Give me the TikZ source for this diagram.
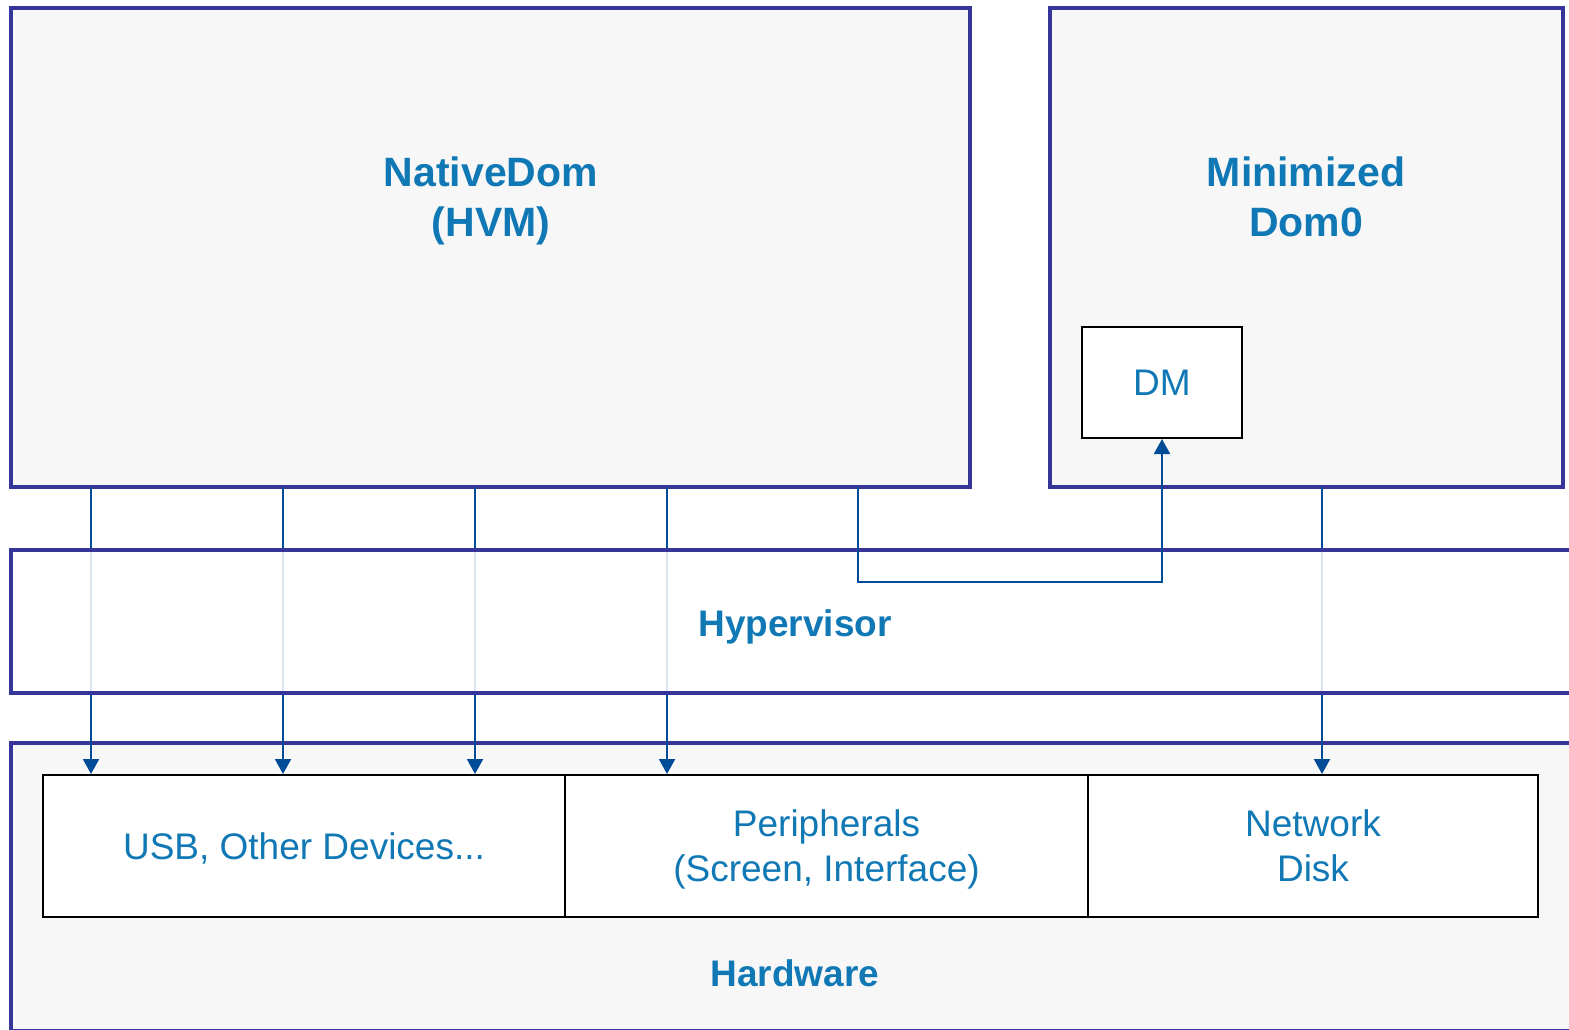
\documentclass[tikz,border=0pt]{standalone}
\usepackage{fontspec}
\setmainfont{Liberation Sans}
\usetikzlibrary{arrows.meta}

\tikzset{
  layer/.style={draw=layerline, line width=4pt, fill=layerfill, inner sep=0pt},
  unit/.style={draw=black, line width=2pt, fill=white, inner sep=0pt, text depth=0pt,
    text=labelblue, align=center, font=\fontsize{37}{45}\selectfont},
  title/.style={text=labelblue, align=center, font=\fontsize{41}{50}\selectfont\bfseries},
  link/.style={draw=linkblue, line width=2pt, -{Triangle[width=16pt,length=15pt]}}
}

\begin{document}
\begin{tikzpicture}[x=1pt, y=-1pt]
  % Define colors
  \definecolor{layerline}{RGB}{54,54,154}
  \definecolor{layerfill}{RGB}{247,247,247}
  \definecolor{labelblue}{RGB}{16,120,180}
  \definecolor{linkblue}{RGB}{0,76,150}

  \clip (0,0) rectangle (1569,1029);
  \useasboundingbox (0,0) rectangle (1569,1029);

  % Draw the domains
  \node[layer, minimum width=959pt, minimum height=479pt] (native) at (490.5,247.5) {};
  \node[layer, minimum width=513pt, minimum height=479pt] (dom0) at (1306.5,247.5) {};
  \node[unit, minimum width=160pt, minimum height=111pt] (dm) at (1162,382.5) {DM};

  % Draw the hardware layer and its parts
  \node[layer, minimum width=1589pt, minimum height=288pt] (hardware) at (805.5,887) {};
  \node[unit, minimum width=522pt, minimum height=142pt] (usb) at (304,846) {USB, Other Devices...};
  \node[unit, minimum width=523pt, minimum height=142pt] (periph) at (826.5,846) {Peripherals\\(Screen, Interface)};
  \node[unit, minimum width=450pt, minimum height=142pt] (netdisk) at (1313,846) {Network\\Disk};

  % Taps on the domain boxes
  \foreach \x [count=\i] in {91,283,475,667,858}
    \coordinate (tap\i) at (\x,487);
  \coordinate (tap6) at (1322,487);

  % Draw the pass-through links
  \foreach \i/\t in {1/usb,2/usb,3/usb,4/periph,6/netdisk}
    \draw[link] (tap\i) -- (tap\i |- \t.north);

  % Draw the hypervisor over them
  \node[layer, fill=white, fill opacity=0.85, minimum width=1589pt, minimum height=143pt] (hyper) at (805.5,621.5) {};

  % Link to the device model
  \coordinate (bend) at (1162,582);
  \draw[link] (tap5) |- (bend) -- (dm.south);

  % Add labels
  \node[title] (nativelabel) at (491,201) {NativeDom\\(HVM)};
  \node[title] (dom0label) at (1306,197) {Minimized\\Dom0};
  \node[title, font=\fontsize{37}{44}\selectfont\bfseries] (hyperlabel) at (795,627) {Hypervisor};
  \node[title, font=\fontsize{37}{44}\selectfont\bfseries] (hwlabel) at (795,973) {Hardware};
\end{tikzpicture}
\end{document}
